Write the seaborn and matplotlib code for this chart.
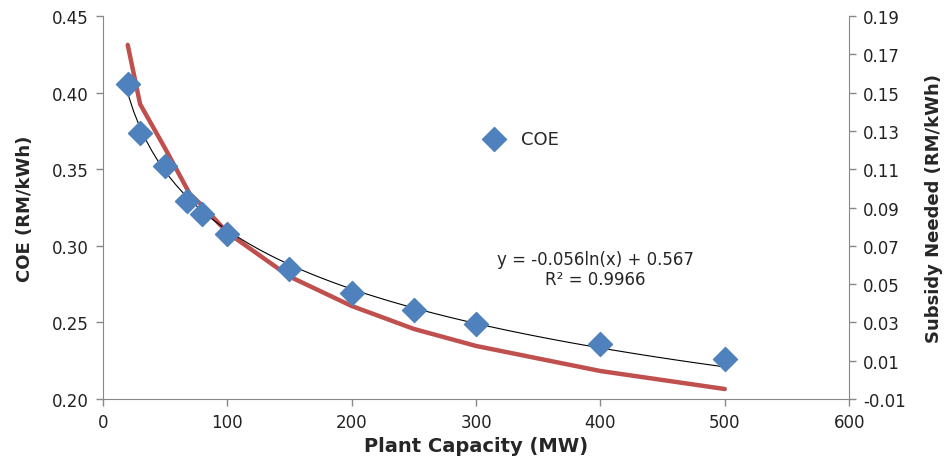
import numpy as np
import pandas as pd
import matplotlib.pyplot as plt
import seaborn as sns

# Plant capacity (MW) and cost of electricity (RM/kWh)
capacity = [20, 30, 50, 68, 80, 100, 150, 200, 250, 300, 400, 500]
coe = [0.406, 0.374, 0.352, 0.329, 0.321, 0.308, 0.285, 0.269, 0.258, 0.249, 0.236, 0.226]

# Subsidy needed (RM/kWh), right axis
subsidy_capacity = [20, 30, 50, 70, 80, 100, 150, 200, 250, 300, 400, 500]
subsidy = [0.175, 0.144, 0.121, 0.097, 0.091, 0.077, 0.054, 0.0386, 0.0266, 0.0177, 0.0046, -0.0048]

df = pd.DataFrame({"capacity": capacity, "coe": coe})
df_sub = pd.DataFrame({"capacity": subsidy_capacity, "subsidy": subsidy})

sns.set_style("white")
plt.rcParams['font.family'] = ['DejaVu Sans']

fig, ax = plt.subplots(figsize=(9.52, 4.64), dpi=100)
fig.subplots_adjust(left=0.108, right=0.892, bottom=0.138, top=0.963)

blue = "#4F81BD"
red = "#C0504D"
grey = "#888888"

# Subsidy on a second axis
ax2 = ax.twinx()
sns.lineplot(x="capacity", y="subsidy", data=df_sub, ax=ax2, color=red, linewidth=3.2)

# Log trendline and COE points
sns.regplot(x="capacity", y="coe", data=df, logx=True, ci=None, scatter=False, ax=ax,
            line_kws={"color": "black", "linewidth": 0.8})
sns.scatterplot(x="capacity", y="coe", data=df, ax=ax, marker="D", s=150, color=blue,
                edgecolor=blue, label="COE", zorder=5)

ax.set_xlim(0, 600)
ax.set_ylim(0.20, 0.45)
ax.set_xticks(np.arange(0, 601, 100))
ax.set_yticks(np.arange(0.20, 0.451, 0.05))
ax.set_yticklabels([f"{v:.2f}" for v in np.arange(0.20, 0.451, 0.05)])
ax2.set_ylim(-0.01, 0.19)
ax2.set_yticks(np.arange(-0.01, 0.191, 0.02))
ax2.set_yticklabels([f"{v:.2f}" for v in np.arange(-0.01, 0.191, 0.02)])

# Axes in front of the twin so the points sit on top of the red line
ax.set_zorder(ax2.get_zorder() + 1)
ax.patch.set_visible(False)

ax.set_xlabel("Plant Capacity (MW)", fontsize=14, fontweight="bold", labelpad=4)
ax.set_ylabel("COE (RM/kWh)", fontsize=13, fontweight="bold", labelpad=13)
ax2.set_ylabel("Subsidy Needed (RM/kWh)", fontsize=13, fontweight="bold", labelpad=14)

for a in (ax, ax2):
    a.tick_params(labelsize=12, colors="#222222", length=5, width=1, direction="out", pad=5)
    a.tick_params(axis="both", which="both", color=grey)
    for s in a.spines.values():
        s.set_color(grey)
    a.spines["top"].set_visible(False)
ax.tick_params(left=True, bottom=True)
ax2.tick_params(right=True)
ax.spines["right"].set_visible(False)
ax2.spines["left"].set_visible(False)
ax2.spines["bottom"].set_visible(False)

ax.legend(loc="center left", bbox_to_anchor=(0.49, 0.679), frameon=False, fontsize=13,
          handletextpad=0.5, borderaxespad=0)

ax.text(396, 0.285, "y = -0.056ln(x) + 0.567\nR² = 0.9966", ha="center", va="center",
        fontsize=12, multialignment="center", linespacing=1.1)

plt.savefig("out.png", dpi=100)
